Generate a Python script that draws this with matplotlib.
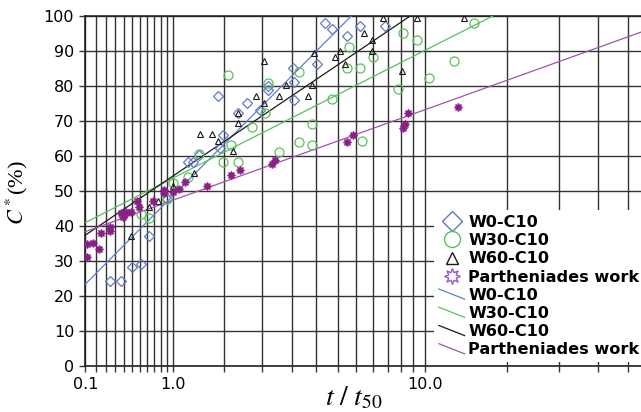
import numpy as np
import matplotlib
matplotlib.use("Agg")
import matplotlib.pyplot as plt
from matplotlib.lines import Line2D
from matplotlib.legend_handler import HandlerBase
from matplotlib.ticker import FixedLocator, FixedFormatter, NullFormatter

# ---------------- data (t/t50, C* in %) ----------------
w0_t = [0.30, 0.40, 0.51, 0.61, 0.70, 0.91, 1.20, 1.29, 1.38, 1.71, 1.74, 1.80, 2.10,
        2.29, 2.59, 2.79, 2.79, 3.50, 3.54, 3.53, 4.29, 4.58, 4.88, 5.51, 6.08, 7.39]
w0_c = [24.2, 24.2, 28.2, 29.2, 37.1, 47.6, 58.2, 58.2, 60.2, 77.2, 62.2, 65.9, 72.1,
        75.1, 73.1, 79.8, 78.9, 85.1, 81.1, 75.9, 86.2, 98.0, 96.1, 94.2, 97.1, 97.1]

w30_t = [0.61, 0.70, 0.91, 1.00, 1.20, 1.38, 1.79, 1.90, 1.95, 2.10, 2.40, 2.72, 2.79,
         3.10, 3.70, 3.70, 4.10, 4.10, 4.88, 5.59, 5.51, 6.08, 6.76, 6.20, 8.18, 8.51,
         9.46, 10.31, 12.37, 14.38]
w30_c = [43.3, 42.2, 47.6, 52.2, 54.0, 60.5, 58.1, 83.1, 63.1, 58.1, 68.1, 72.1, 80.9,
         61.1, 84.0, 64.0, 69.2, 63.1, 76.2, 91.1, 85.0, 85.0, 88.1, 64.2, 79.1, 95.1,
         93.1, 82.1, 87.1, 98.0]

w60_t = [0.50, 0.70, 0.80, 1.00, 1.30, 1.40, 1.60, 1.70, 2.00, 2.10, 2.10, 2.50, 2.70,
         2.70, 3.10, 3.30, 3.99, 4.10, 4.18, 5.00, 5.20, 5.40, 6.29, 6.70, 6.70, 7.28,
         8.40, 9.40, 13.37]
w60_c = [37.1, 45.3, 47.2, 51.3, 55.2, 66.1, 66.1, 64.2, 61.3, 72.2, 69.3, 77.2, 87.1,
         75.1, 77.2, 80.2, 77.2, 80.2, 89.3, 88.1, 90.0, 86.3, 95.1, 93.1, 90.0, 99.3,
         84.2, 99.3, 99.3]

par_t = [0.11, 0.11, 0.16, 0.21, 0.22, 0.30, 0.30, 0.40, 0.43, 0.45, 0.50, 0.42, 0.56,
         0.58, 0.74, 0.87, 0.87, 1.00, 1.08, 1.16, 1.51, 1.95, 2.13, 2.89, 2.99, 5.47,
         5.77, 8.51, 8.61, 8.83, 12.74]
par_c = [31.1, 34.8, 35.0, 33.3, 38.0, 39.5, 38.5, 43.7, 43.1, 44.0, 44.0, 42.4, 47.1,
         45.4, 47.1, 50.2, 49.3, 49.5, 50.4, 52.4, 51.3, 54.5, 55.8, 57.5, 58.7, 63.8,
         65.9, 68.0, 69.1, 72.3, 74.0]

# fitted lines: end points (t, C)
fit_labels = ["W0-C10", "W30-C10", "W60-C10", "Partheniades work"]
fit_t0 = [0.1, 0.1, 0.1, 0.1]
fit_c0 = [23.3, 40.9, 37.3, 38.3]
fit_t1 = [5.69, 16.5, 8.99, 46.64]
fit_c1 = [100.0, 100.0, 100.0, 95.3]

x_major = [0.1, 1.0, 10.0]
x_major_labels = ["0.1", "1.0", "10.0"]
y_ticks = [0, 10, 20, 30, 40, 50, 60, 70, 80, 90, 100]

# ---------------- style ----------------
c_blue_m = "#6478c2"
c_blue_l = "#5f7fd2"
c_green_m = "#5cbf5c"
c_green_l = "#55c25c"
c_black = "#1a1a1a"
c_purp_m = "#8a1f8a"
c_purp_l = "#a052ad"
c_purp_leg = "#9a5ac8"
grid_c = "#333333"

plt.rcParams["mathtext.fontset"] = "stix"

W, H = 641, 412
fig = plt.figure(figsize=(W / 100, H / 100), dpi=100)
ax_l, ax_b, ax_t = 85.3, 365.7, 15.7
ax = fig.add_axes([ax_l / W, 1 - ax_b / H, (W - ax_l) / W, (ax_b - ax_t) / H])


def fwd(t):
    with np.errstate(all="ignore"):
        return np.log10(np.asarray(t, dtype=float) + 1.0)


def inv(u):
    return 10 ** np.asarray(u, dtype=float) - 1.0


ax.set_xscale("function", functions=(fwd, inv))
ax.set_xlim(0.1, 46.64)
ax.set_ylim(0, 100)

# fitted lines
fit_colors = [c_blue_l, c_green_l, c_black, c_purp_l]
for i in range(4):
    ax.plot([fit_t0[i], fit_t1[i]], [fit_c0[i], fit_c1[i]], color=fit_colors[i],
            lw=0.9, zorder=3)

# scatter markers
ax.plot(w0_t, w0_c, ls="none", marker="D", ms=5.2, mfc="none", mec=c_blue_m, mew=0.9, zorder=4)
ax.plot(w30_t, w30_c, ls="none", marker="o", ms=6.5, mfc="none", mec=c_green_m, mew=0.9, zorder=4)
ax.plot(w60_t, w60_c, ls="none", marker="^", ms=4.8, mfc="none", mec=c_black, mew=0.8, zorder=4)
ax.plot(par_t, par_c, ls="none", marker=(8, 1, 0), ms=5.8, mfc=c_purp_m, mec=c_purp_m, mew=0.9, zorder=4)

# ticks & grid
minor = np.concatenate([np.linspace(0.1, 1, 12)[1:-1], np.linspace(1, 10, 12)[1:-1],
                        np.linspace(10, 100, 12)[1:]])
minor = minor[minor < 46.6]
ax.xaxis.set_major_locator(FixedLocator(x_major))
ax.xaxis.set_major_formatter(FixedFormatter(x_major_labels))
ax.xaxis.set_minor_locator(FixedLocator(minor))
ax.xaxis.set_minor_formatter(NullFormatter())
ax.yaxis.set_major_locator(FixedLocator(y_ticks))
ax.grid(True, which="both", axis="x", color=grid_c, lw=1.0)
ax.grid(True, which="major", axis="y", color=grid_c, lw=1.0)
ax.set_axisbelow(True)
ax.tick_params(axis="both", which="both", direction="out", length=4, width=1.0,
               color=grid_c, labelsize=11.5, pad=4)
for lab in ax.get_xticklabels() + ax.get_yticklabels():
    lab.set_family("DejaVu Sans")
ax.spines["right"].set_visible(False)
for s in ["left", "bottom", "top"]:
    ax.spines[s].set_linewidth(1.2)
    ax.spines[s].set_color("#222222")

# axis labels
ax.set_ylabel(r"$C^*$(%)", family="Liberation Serif", fontsize=16)
ax.yaxis.set_label_coords(30 / W, 1 - 192 / H, transform=fig.transFigure)
ax.set_xlabel(r"$t\ /\ t_{\mathrm{50}}$", fontsize=20, va="center")
ax.xaxis.set_label_coords(354 / W, 1 - 397 / H, transform=fig.transFigure)


# legend
class DiagHandler(HandlerBase):
    def create_artists(self, legend, orig_handle, xdescent, ydescent, width, height,
                       fontsize, trans):
        ln = Line2D([-xdescent, width - xdescent],
                    [height * 0.95 - ydescent, height * 0.05 - ydescent],
                    color=orig_handle.get_color(), lw=orig_handle.get_linewidth())
        ln.set_transform(trans)
        return [ln]


mk_handles = [
    Line2D([], [], ls="none", marker="D", ms=10, mfc="none", mec=c_blue_m, mew=1.0),
    Line2D([], [], ls="none", marker="o", ms=11.5, mfc="none", mec=c_green_m, mew=1.0),
    Line2D([], [], ls="none", marker="^", ms=9, mfc="none", mec=c_black, mew=1.0),
    Line2D([], [], ls="none", marker=(8, 1, 0), ms=11.5, mfc="none", mec=c_purp_leg, mew=1.0),
]
ln_handles = [Line2D([], [], color=c, lw=0.9) for c in fit_colors]
hmap = {h: DiagHandler() for h in ln_handles}
leg = ax.legend(mk_handles + ln_handles, fit_labels + fit_labels, handler_map=hmap,
                loc="upper left", bbox_to_anchor=(434 / W, 1 - 210 / H),
                bbox_transform=fig.transFigure, frameon=True, fancybox=False,
                edgecolor="none", facecolor="white", framealpha=1.0,
                prop=dict(family="DejaVu Sans", weight="bold", size=11.6),
                borderpad=0.3, handlelength=1.6, handletextpad=0.22,
                labelspacing=0.2, borderaxespad=0)
leg.set_zorder(10)

fig.savefig("out.png", dpi=100)
